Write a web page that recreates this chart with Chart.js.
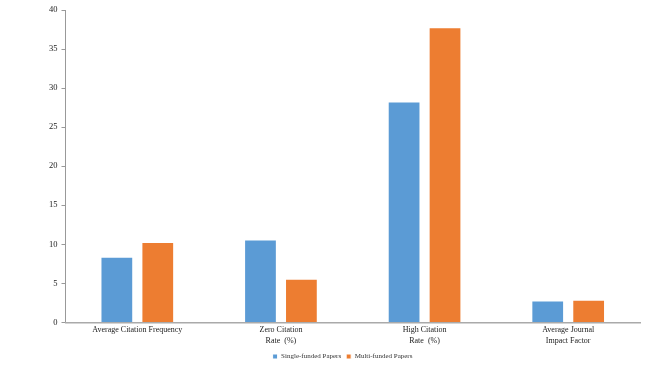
<!DOCTYPE html>
<html>
<head>
<meta charset="utf-8">
<script src="https://cdn.jsdelivr.net/npm/chart.js@4/dist/chart.umd.min.js"></script>
<style>
  html, body { margin: 0; padding: 0; background: #fff; }
  #wrap { width: 650px; height: 367px; }
</style>
</head>
<body>
<div id="wrap"><canvas id="citeChart"></canvas></div>
<script>
const categories = [
  "Average Citation Frequency",
  ["Zero Citation", "Rate  (%)"],
  ["High Citation", "Rate  (%)"],
  ["Average Journal", "Impact Factor"]
];
const singleFunded = [8.4, 10.6, 28.3, 2.8];
const multiFunded = [10.3, 5.6, 37.8, 2.9];
const yTicks = [0, 5, 10, 15, 20, 25, 30, 35, 40];

const serif = "'Liberation Serif', 'Times New Roman', serif";
Chart.defaults.font.family = serif;
Chart.defaults.color = "#222";

const ctx = document.getElementById("citeChart").getContext("2d");
new Chart(ctx, {
  type: "bar",
  data: {
    labels: categories,
    datasets: [
      {
        label: "Single-funded Papers",
        data: singleFunded,
        backgroundColor: "#5b9bd5",
        borderColor: "#ffffff",
        borderWidth: 1,
        barPercentage: 0.8,
        categoryPercentage: 0.57
      },
      {
        label: "Multi-funded Papers",
        data: multiFunded,
        backgroundColor: "#ed7d31",
        borderColor: "#ffffff",
        borderWidth: 1,
        barPercentage: 0.8,
        categoryPercentage: 0.57
      }
    ]
  },
  options: {
    responsive: true,
    maintainAspectRatio: false,
    animation: false,
    layout: { padding: { left: 45, right: 10, top: 10, bottom: -3 } },
    plugins: {
      legend: {
        position: "bottom",
        labels: { boxWidth: 5, boxHeight: 5, padding: 5, font: { size: 7 }, color: "#333" }
      },
      tooltip: { enabled: false }
    },
    scales: {
      y: {
        min: 0,
        max: 40,
        afterBuildTicks: (axis) => { axis.ticks = yTicks.map(v => ({ value: v })); },
        grid: { display: true, drawOnChartArea: false, drawTicks: true, tickLength: 4, tickColor: "#999" },
        border: { color: "#999" },
        ticks: { font: { size: 8.5 }, color: "#222", padding: 4 }
      },
      x: {
        grid: { display: false, drawTicks: false },
        border: { color: "#aaa", width: 1.5 },
        ticks: { font: { size: 8, lineHeight: 1.35 }, color: "#222", padding: 2, maxRotation: 0, autoSkip: false }
      }
    }
  }
});
</script>
</body>
</html>
